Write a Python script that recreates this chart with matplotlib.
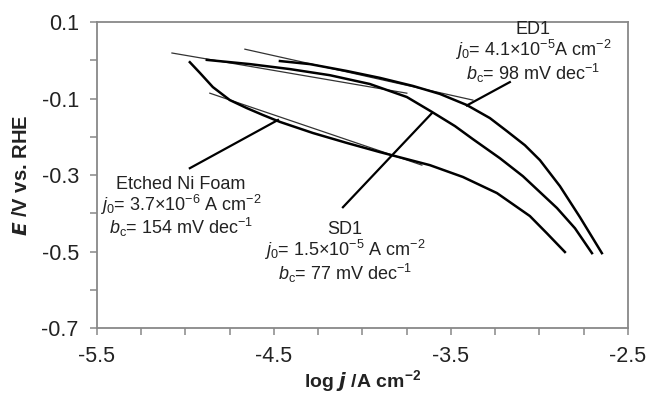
import matplotlib
matplotlib.use("Agg")
import matplotlib.pyplot as plt
from matplotlib.ticker import MultipleLocator, FixedLocator

plt.rcParams["font.family"] = ["Liberation Sans", "DejaVu Sans"]
plt.rcParams["mathtext.fontset"] = "custom"
plt.rcParams["mathtext.rm"] = "Liberation Sans"
plt.rcParams["mathtext.it"] = "Liberation Sans:italic"
plt.rcParams["mathtext.bf"] = "Liberation Sans:bold"
plt.rcParams["axes.unicode_minus"] = False

# polarisation curves (log j, E)
ni_logj = [-4.975, -4.918, -4.845, -4.749, -4.653, -4.562, -4.466, -4.280, -4.088,
           -3.901, -3.619, -3.432, -3.240, -3.054, -2.958, -2.856]
ni_E = [-0.005, -0.033, -0.070, -0.104, -0.125, -0.143, -0.161, -0.190, -0.216,
        -0.240, -0.274, -0.305, -0.347, -0.407, -0.452, -0.501]

sd_logj = [-4.879, -4.636, -4.410, -4.184, -3.958, -3.749, -3.607, -3.477, -3.376,
           -3.223, -3.093, -2.901, -2.799, -2.703]
sd_E = [0.001, -0.010, -0.023, -0.039, -0.062, -0.096, -0.135, -0.172, -0.206,
        -0.256, -0.303, -0.386, -0.439, -0.504]

ed_logj = [-4.466, -4.297, -4.088, -3.901, -3.715, -3.562, -3.410, -3.280, -3.184,
           -3.082, -2.997, -2.884, -2.771, -2.647]
ed_E = [-0.002, -0.010, -0.028, -0.046, -0.067, -0.088, -0.117, -0.151, -0.185,
        -0.222, -0.261, -0.329, -0.410, -0.504]

# Tafel fit lines
tafel_ni = ([-4.862, -3.664], [-0.086, -0.274])
tafel_sd = ([-5.076, -3.749], [0.019, -0.086])
tafel_ed = ([-4.664, -3.376], [0.029, -0.104])

# leader lines from labels to curves
lead_ni = ([-4.975, -4.477], [-0.282, -0.156])
lead_sd = ([-4.110, -3.607], [-0.384, -0.138])
lead_ed = ([-3.167, -3.410], [-0.057, -0.118])

# label blocks: name, j0, Tafel slope
labels = ["Etched Ni Foam", "SD1", "ED1"]
j0_txt = ["3.7×10$^{-6}$ A cm$^{-2}$", "1.5×10$^{-5}$ A cm$^{-2}$", "4.1×10$^{-5}$A cm$^{-2}$"]
bc_txt = ["154", "77", "98"]
label_pos = [(-5.025, -0.385), (-4.10, -0.503), (-3.037, 0.019)]

fig = plt.figure(figsize=(6.46, 3.93), dpi=100)
ax = fig.add_axes([0.150, 0.165, 0.822, 0.779])

for xs, ys in [tafel_ni, tafel_sd, tafel_ed]:
    ax.plot(xs, ys, color="#333333", lw=0.9)

ax.plot(ni_logj, ni_E, color="black", lw=1.8)
ax.plot(sd_logj, sd_E, color="black", lw=1.8)
ax.plot(ed_logj, ed_E, color="black", lw=1.8)

for xs, ys in [lead_ni, lead_sd, lead_ed]:
    ax.plot(xs, ys, color="black", lw=1.6)

tc = "#222222"
for name, j0, bc, (lx, ly) in zip(labels, j0_txt, bc_txt, label_pos):
    block = name + "\n$j_0$= " + j0 + "\n$b_\\mathrm{c}$= " + bc + " mV dec$^{-1}$"
    ax.text(lx, ly, block, ha="center", va="center", multialignment="center",
            fontsize=13, color=tc, linespacing=0.98)

ax.set_xlim(-5.5, -2.5)
ax.set_ylim(-0.7, 0.1)
ax.xaxis.set_major_locator(FixedLocator([-5.5, -4.5, -3.5, -2.5]))
ax.xaxis.set_minor_locator(MultipleLocator(0.25))
ax.yaxis.set_major_locator(FixedLocator([0.1, -0.1, -0.3, -0.5, -0.7]))
ax.yaxis.set_minor_locator(MultipleLocator(0.1))
ax.set_xticklabels(["-5.5", "-4.5", "-3.5", "-2.5"])
ax.set_yticklabels(["0.1", "-0.1", "-0.3", "-0.5", "-0.7"])

for sp in ax.spines.values():
    sp.set_color("#888888")
    sp.set_linewidth(1.3)
ax.tick_params(which="both", direction="out", length=5, width=1.1, color="#888888",
               labelsize=15.5, labelcolor=tc, pad=8)

ax.set_xlabel("log $\\boldsymbol{j}$ /A cm$^{\\mathbf{-2}}$", fontsize=14, fontweight="bold", color=tc)
ax.set_ylabel("$\\boldsymbol{E}$ /V vs. RHE", fontsize=14.5, fontweight="bold", color=tc)
ax.xaxis.set_label_coords(0.5, -0.13)
ax.yaxis.set_label_coords(-0.125, 0.5)

fig.savefig("out.png", dpi=100)
